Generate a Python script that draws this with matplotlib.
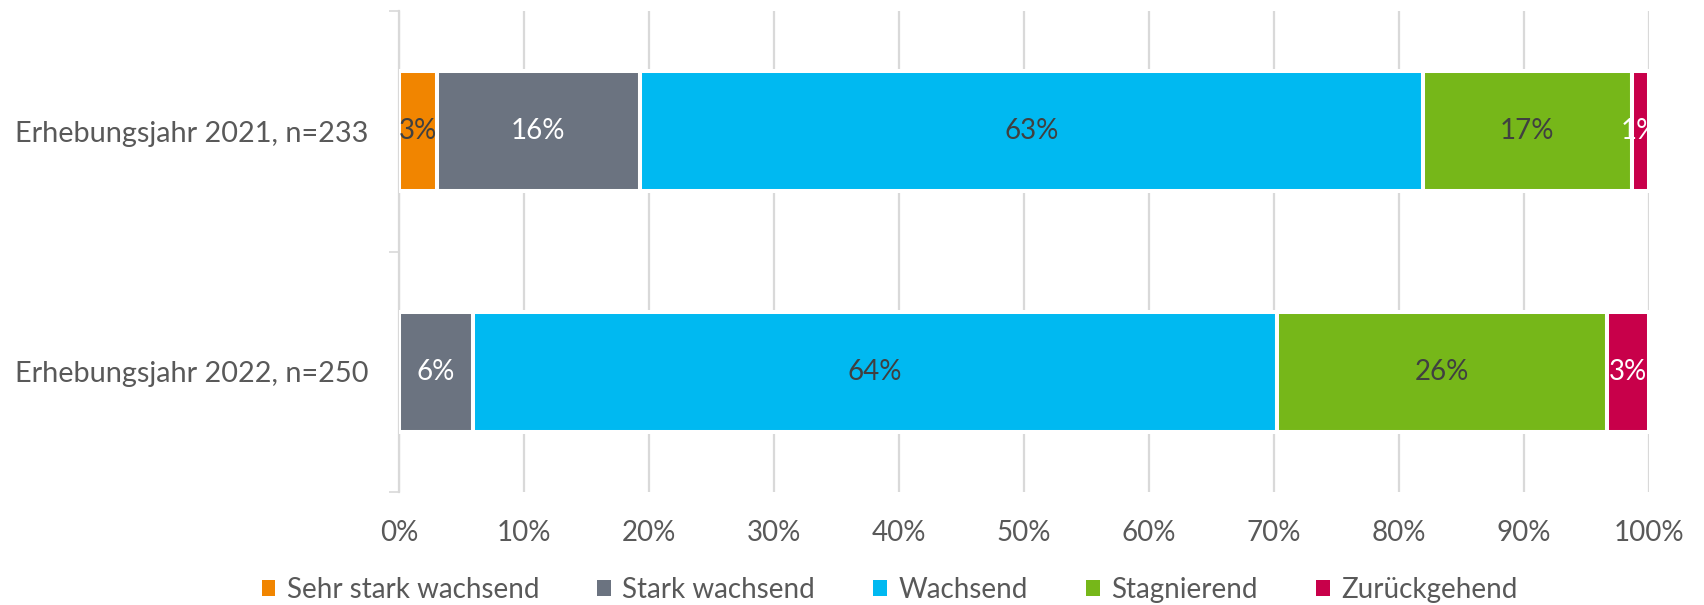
import numpy as np
import matplotlib.pyplot as plt
from matplotlib.patches import Patch

plt.rcParams['font.family'] = ['Lato', 'DejaVu Sans']

categories = ['Erhebungsjahr 2021, n=233', 'Erhebungsjahr 2022, n=250']
series = ['Sehr stark wachsend', 'Stark wachsend', 'Wachsend', 'Stagnierend', 'Zurückgehend']
values = {
    'Sehr stark wachsend': [3.0, 0.0],
    'Stark wachsend': [16.3, 5.9],
    'Wachsend': [62.6, 64.3],
    'Stagnierend': [16.7, 26.4],
    'Zurückgehend': [1.4, 3.4],
}
colors = ['#F18500', '#6B7380', '#00B9F1', '#76B719', '#C8004A']
label_colors = ['#404040', 'white', '#404040', '#404040', 'white']

text_gray = '#595959'
grid_gray = '#D9D9D9'

fig = plt.figure(figsize=(17.04, 6.05), dpi=100)
ax = fig.add_axes([399 / 1704, 1 - 492 / 605, 1250 / 1704, 481 / 605])

ypos = np.array([1, 0])
left = np.zeros(len(categories))
for s, c, lc in zip(series, colors, label_colors):
    v = np.array(values[s])
    bars = ax.barh(ypos, v, left=left, height=0.5, color=c, edgecolor='white',
                   linewidth=2.9, zorder=3)
    for b, val in zip(bars, v):
        if val > 0:
            ax.text(b.get_x() + b.get_width() / 2, b.get_y() + b.get_height() / 2,
                    f'{round(val):d}%', ha='center', va='center', fontsize=20,
                    color=lc, zorder=4)
    left += v

ax.set_xlim(0, 100)
ax.set_ylim(-0.5, 1.5)
ax.set_xticks(np.arange(0, 101, 10))
ax.set_xticklabels([f'{t}%' for t in range(0, 101, 10)])
ax.tick_params(axis='x', length=0, pad=20, labelsize=20, labelcolor=text_gray)
ax.xaxis.grid(True, color=grid_gray, linewidth=1.6, zorder=0)

ax.set_yticks([-0.5, 0.5, 1.5])
ax.set_yticklabels([])
ax.tick_params(axis='y', which='major', length=7, width=1.2, color=grid_gray)
ax.set_yticks(ypos, minor=True)
ax.set_yticklabels(categories, minor=True)
ax.tick_params(axis='y', which='minor', length=0, pad=22, labelsize=20.8,
               labelcolor=text_gray)

for side in ['top', 'right', 'bottom']:
    ax.spines[side].set_visible(False)
ax.spines['left'].set_color(grid_gray)
ax.spines['left'].set_linewidth(1.6)

handles = [Patch(facecolor=c, edgecolor='none') for c in colors]
fig.legend(handles, series, loc='center', bbox_to_anchor=(0.522, 0.025), ncol=5,
           frameon=False, fontsize=20, handlelength=0.5, handleheight=0.5,
           handletextpad=0.4, columnspacing=2.1, borderpad=0,
           labelcolor=text_gray)

fig.savefig('out.png', dpi=100)
